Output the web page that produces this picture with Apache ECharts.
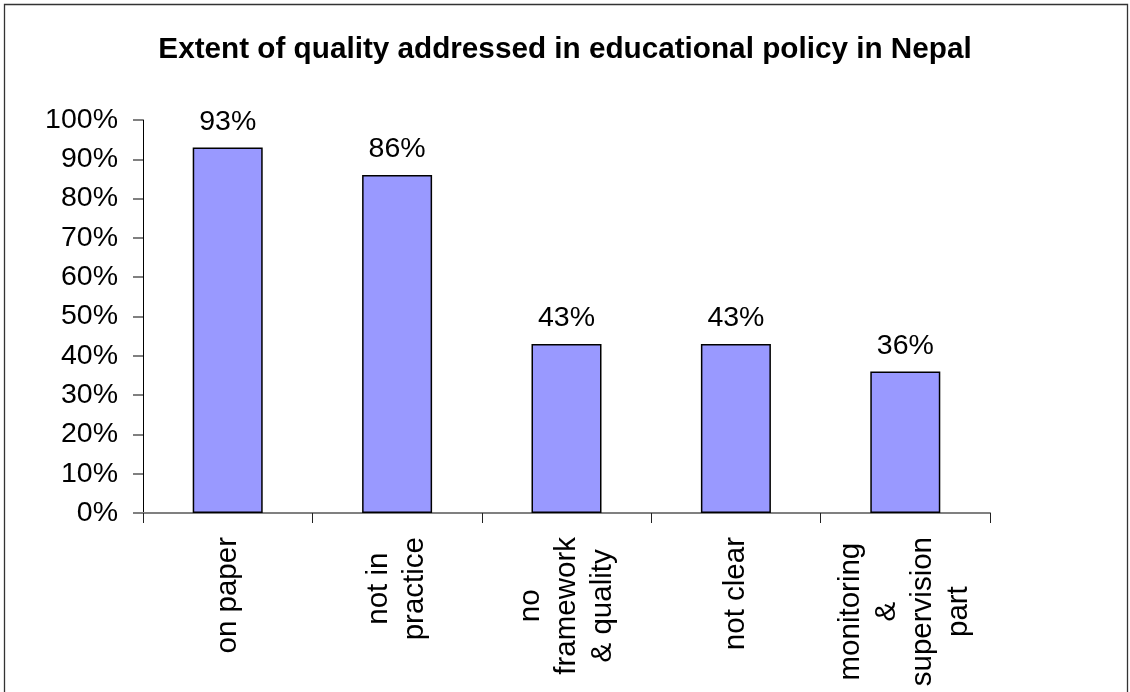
<!DOCTYPE html>
<html>
<head>
<meta charset="utf-8">
<style>
  html, body { margin: 0; padding: 0; background: #fff; }
  #chart { width: 1130px; height: 692px; }
</style>
<script src="https://cdn.jsdelivr.net/npm/echarts@6/dist/echarts.min.js"></script>
</head>
<body>
<div id="chart"></div>
<script>
// Survey responses: how far quality is addressed in educational policy
const categories = [
  'on paper',
  'not in\npractice',
  'no\nframework\n& quality',
  'not clear',
  'monitoring\n&\nsupervision\npart'
];
const shares = [93, 86, 43, 43, 36];
const yTicks = { min: 0, max: 100, interval: 10 };

const FONT = '"Liberation Sans", Arial, sans-serif';

const chart = echarts.init(document.getElementById('chart'), null, { renderer: 'canvas' });

chart.setOption({
  backgroundColor: '#ffffff',
  animation: false,
  title: {
    text: 'Extent of quality addressed in educational policy in Nepal',
    left: 'center',
    top: 30,
    textStyle: { fontFamily: FONT, fontSize: 29.7, fontWeight: 'bold', color: '#000' }
  },
  graphic: [{
    type: 'rect',
    shape: { x: 4.5, y: 4.5, width: 1123, height: 720 },
    style: { fill: 'none', stroke: '#333', lineWidth: 1.3 },
    silent: true
  }],
  grid: { left: 143, right: 140, top: 120, bottom: 179 },
  xAxis: {
    type: 'category',
    data: categories,
    axisLine: { lineStyle: { color: '#808080', width: 2 } },
    axisTick: { show: true, length: 10, alignWithLabel: false, lineStyle: { color: '#222', width: 1 } },
    axisLabel: {
      rotate: 90,
      margin: 24,
      interval: 0,
      color: '#000',
      fontFamily: FONT,
      fontSize: 29.5,
      formatter: (v) => v.split('\n').map((s) => '{c|' + s + '}').join('\n'),
      rich: {
        c: { align: 'center', fontFamily: FONT, fontSize: 29.5, lineHeight: 36, color: '#000' }
      }
    }
  },
  yAxis: {
    type: 'value',
    min: yTicks.min,
    max: yTicks.max,
    interval: yTicks.interval,
    splitLine: { show: false },
    axisLine: { show: true, lineStyle: { color: '#000', width: 1 } },
    axisTick: { show: true, length: 10, lineStyle: { color: '#808080', width: 2 } },
    axisLabel: {
      margin: 25,
      padding: [5, 0, 0, 0],
      color: '#000',
      fontFamily: FONT,
      fontSize: 28.5,
      formatter: '{value}%'
    }
  },
  series: [{
    type: 'bar',
    data: shares,
    barWidth: 70,
    itemStyle: { color: '#9999FF', borderColor: '#000', borderWidth: 1.5 },
    label: {
      show: true,
      position: 'top',
      distance: 11,
      formatter: '{c}%',
      color: '#000',
      fontFamily: FONT,
      fontSize: 28.5
    }
  }]
});
</script>
</body>
</html>
